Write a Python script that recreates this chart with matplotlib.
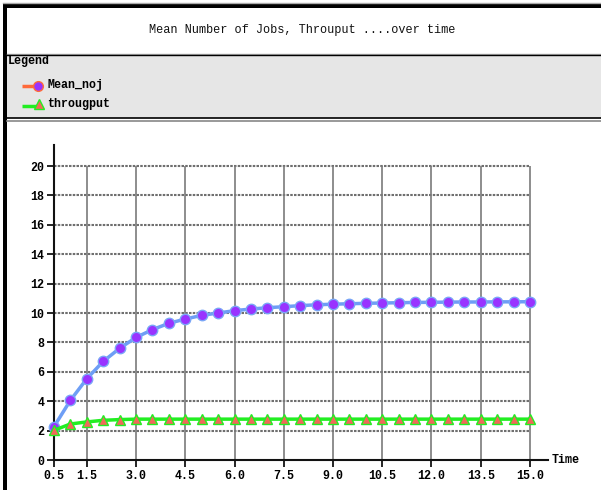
import matplotlib
matplotlib.use("Agg")
import matplotlib.pyplot as plt
from matplotlib.patches import Rectangle

plt.rcParams['font.family'] = 'Liberation Mono'

title = "Mean Number of Jobs, Throuput ....over time"
time = [0.5, 1.0, 1.5, 2.0, 2.5, 3.0, 3.5, 4.0, 4.5, 5.0,
        5.5, 6.0, 6.5, 7.0, 7.5, 8.0, 8.5, 9.0, 9.5, 10.0,
        10.5, 11.0, 11.5, 12.0, 12.5, 13.0, 13.5, 14.0, 14.5, 15.0]
mean_noj = [2.27, 4.06, 5.53, 6.71, 7.60, 8.34, 8.87, 9.30, 9.59, 9.84,
            10.00, 10.16, 10.27, 10.36, 10.43, 10.50, 10.56, 10.60, 10.63, 10.66,
            10.68, 10.70, 10.72, 10.73, 10.74, 10.75, 10.75, 10.76, 10.76, 10.77]
througput = [2.02, 2.45, 2.59, 2.70, 2.75, 2.78, 2.78, 2.78, 2.78, 2.78,
             2.78, 2.78, 2.78, 2.78, 2.78, 2.78, 2.78, 2.78, 2.78, 2.78,
             2.78, 2.78, 2.78, 2.78, 2.78, 2.78, 2.78, 2.78, 2.78, 2.78]
xticks = [0.5, 1.5, 3.0, 4.5, 6.0, 7.5, 9.0, 10.5, 12.0, 13.5, 15.0]
yticks = [0, 2, 4, 6, 8, 10, 12, 14, 16, 18, 20]

W, H = 601, 490
fig = plt.figure(figsize=(W / 100, H / 100), dpi=100)
fig.set_facecolor('white')

# page furniture in pixel coordinates
bg = fig.add_axes([0, 0, 1, 1], zorder=0)
bg.set_xlim(0, W)
bg.set_ylim(H, 0)
bg.axis('off')
bg.add_patch(Rectangle((7, 55), W - 7, 63, facecolor='#e6e6e6', edgecolor='none'))
bg.plot([3, W], [3.5, 3.5], color='#aaaaaa', lw=1)
bg.add_patch(Rectangle((3, 4.5), W - 3, 3.5, facecolor='black', edgecolor='none'))
bg.add_patch(Rectangle((3, 4.5), 4, H - 4.5, facecolor='black', edgecolor='none'))
bg.plot([7, W], [53.8, 53.8], color='#aaaaaa', lw=1)
bg.plot([7, W], [55, 55], color='black', lw=1)
bg.plot([7, W], [118, 118], color='black', lw=1.2)
bg.plot([7, W], [121, 121], color='#888888', lw=1.2)

bg.text(302, 30, title, ha='center', va='center', fontsize=8.6, color='#111111')
bg.text(8, 61, "Legend", ha='left', va='center', fontsize=8.4, fontweight='bold')
bg.plot([22, 38], [86, 86], color='#ff6a3a', lw=2.5, solid_capstyle='butt')
bg.plot([38], [86], marker='o', ms=7, color='#9933ff', mec='#ff6a3a', mew=1)
bg.text(47, 85, "Mean_noj", ha='left', va='center', fontsize=8.4, fontweight='bold')
bg.plot([22, 39], [106, 106], color='#22ee22', lw=2.5, solid_capstyle='butt')
bg.plot([39], [104.5], marker='^', ms=7.5, color='#f06a5a', mec='#22ee22', mew=1)
bg.text(47, 104, "througput", ha='left', va='center', fontsize=8.4, fontweight='bold')

# chart area
ax = fig.add_axes([54 / W, 1 - 460 / H, 494 / W, 315 / H], zorder=1)
ax.set_facecolor('none')
ax.set_xlim(0.5, 15.55)
ax.set_ylim(0, 21.43)
for s in ['top', 'right']:
    ax.spines[s].set_visible(False)
ax.spines['left'].set_linewidth(1.5)
ax.spines['bottom'].set_linewidth(1.5)
ax.spines['left'].set_color('#111111')
ax.spines['bottom'].set_color('#111111')

ax.hlines(yticks[1:], 0.5, 15.0, colors='#6f6f6f', lw=1.5, linestyles=(0, (1.2, 0.6)), zorder=1)
ax.vlines(xticks[1:], 0, 20, colors='#7a7a7a', lw=1.2, zorder=1)

ax.set_xticks(xticks)
ax.set_xticklabels([f"{v:.1f}" for v in xticks])
ax.set_yticks(yticks)
ax.tick_params(direction='out', length=5, width=1.2, labelsize=8.4, pad=2)
for lbl in ax.get_xticklabels() + ax.get_yticklabels():
    lbl.set_fontweight('bold')

ax.plot(time, mean_noj, color='#6e9ef5', lw=2.5, marker='o', ms=7.5,
        mfc='#9933ff', mec='#7aa6f7', mew=1, zorder=3, clip_on=False)
ax.plot(time, througput, color='#22ee22', lw=2.5, marker='^', ms=7.5,
        mfc='#f06a5a', mec='#22ee22', mew=1, zorder=3, clip_on=False)

ax.text(1.008, 0, "Time", transform=ax.transAxes, ha='left', va='center',
        fontsize=8.4, fontweight='bold')

fig.savefig("out.png", dpi=100, facecolor='white')
